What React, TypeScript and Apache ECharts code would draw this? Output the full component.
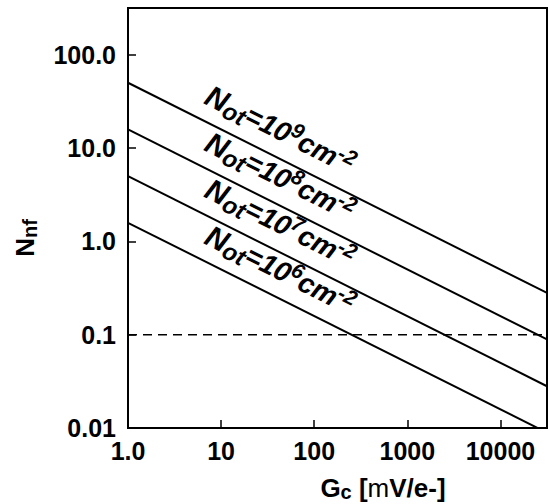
import React, { useEffect, useRef } from "react";
import * as echarts from "echarts";

// ---- data ----
const xTickValues = [1, 10, 100, 1000, 10000];
const xTickLabels = ["1.0", "10", "100", "1000", "10000"];
const yTickValues = [0.01, 0.1, 1, 10, 100];
const yTickLabels = ["0.01", "0.1", "1.0", "10.0", "100.0"];
const xRange = [1, 31623];
const yRange = [0.01, 316.2];

const gcEnds = [1, 31623];
const nfNot1e9 = [50, 0.28];
const nfNot1e8 = [15.8, 0.089];
const nfNot1e7 = [5.0, 0.028];
const nfNot1e6 = [1.58, 0.0089];
const nfThreshold = [0.1, 0.1];
const notExponents = ["9", "8", "7", "6"];
const labelGc = 43;

const FONT = "'Liberation Sans', Arial, Helvetica, sans-serif";

function fmt(values: number[], labels: string[]) {
  return (v: number) => {
    const i = values.findIndex((t) => Math.abs(Math.log10(v) - Math.log10(t)) < 1e-6);
    return i >= 0 ? labels[i] : "";
  };
}

export default function App() {
  const ref = useRef<HTMLDivElement>(null);
  useEffect(() => {
    if (!ref.current) return;
    const chart = echarts.init(ref.current, undefined, { renderer: "svg" });
    const curves = [nfNot1e9, nfNot1e8, nfNot1e7, nfNot1e6];
    const axisCommon = {
      type: "log" as const,
      logBase: 10,
      axisLine: { show: true, lineStyle: { color: "#000", width: 2 } },
      axisTick: { show: true, inside: true, length: 8, lineStyle: { color: "#000", width: 1.5 } },
      splitLine: { show: false },
      minorTick: { show: false },
    };
    chart.setOption({
      animation: false,
      grid: {
        left: 128,
        right: 2,
        top: 8,
        bottom: 76,
        show: true,
        borderColor: "#000",
        borderWidth: 2,
        containLabel: false,
        outerBoundsMode: "none",
      },
      xAxis: {
        ...axisCommon,
        min: xRange[0],
        max: xRange[1],
        axisLabel: {
          margin: 10,
          color: "#000",
          fontFamily: FONT,
          fontWeight: "bold",
          fontSize: 25,
          showMinLabel: true,
          showMaxLabel: true,
          formatter: fmt(xTickValues, xTickLabels),
        },
      },
      yAxis: {
        ...axisCommon,
        min: yRange[0],
        max: yRange[1],
        axisLabel: {
          margin: 12,
          color: "#000",
          fontFamily: FONT,
          fontWeight: "bold",
          fontSize: 25,
          showMinLabel: true,
          showMaxLabel: true,
          formatter: fmt(yTickValues, yTickLabels),
        },
      },
      series: [
        ...curves.map((c) => ({
          type: "line",
          data: gcEnds.map((g, i) => [g, c[i]]),
          symbol: "none",
          clip: true,
          silent: true,
          lineStyle: { color: "#000", width: 2 },
        })),
        {
          type: "line",
          data: gcEnds.map((g, i) => [g, nfThreshold[i]]),
          symbol: "none",
          clip: true,
          silent: true,
          lineStyle: { color: "#000", width: 1.5, type: [9, 6] },
        },
      ],
    });

    const labelRich = {
      N: { fontFamily: FONT, fontStyle: "italic", fontWeight: "bold", fontSize: 30, lineHeight: 36, verticalAlign: "middle", fill: "#000" },
      sub: { fontFamily: FONT, fontStyle: "italic", fontWeight: "bold", fontSize: 24, lineHeight: 24, verticalAlign: "bottom", fill: "#000" },
      m: { fontFamily: FONT, fontStyle: "italic", fontWeight: "bold", fontSize: 28, lineHeight: 36, verticalAlign: "middle", fill: "#000" },
      sup: { fontFamily: FONT, fontStyle: "italic", fontWeight: "bold", fontSize: 21, lineHeight: 21, verticalAlign: "top", fill: "#000" },
    };

    const graphics: any[] = curves.map((c, k) => {
      const p1 = chart.convertToPixel({ gridIndex: 0 }, [gcEnds[0], c[0]]) as number[];
      const p2 = chart.convertToPixel({ gridIndex: 0 }, [gcEnds[1], c[1]]) as number[];
      const px = (chart.convertToPixel({ gridIndex: 0 }, [labelGc, 1]) as number[])[0];
      const t = (px - p1[0]) / (p2[0] - p1[0]);
      const py = p1[1] + t * (p2[1] - p1[1]);
      const ang = Math.atan2(p2[1] - p1[1], p2[0] - p1[0]);
      return {
        type: "text",
        x: px,
        y: py - 29,
        rotation: -ang,
        silent: true,
        style: {
          text: `{N|N}{sub|ot}{m|=10}{sup|${notExponents[k]}}{m|cm}{sup|-2}`,
          rich: labelRich,
          align: "center",
          verticalAlign: "middle",
          fill: "#000",
        },
      };
    });

    graphics.push({
      type: "text",
      x: 25,
      y: 238,
      rotation: Math.PI / 2,
      silent: true,
      style: {
        text: "{N|N}{s|nf}",
        align: "center",
        verticalAlign: "middle",
        fill: "#000",
        rich: {
          N: { fontFamily: FONT, fontWeight: "bold", fontSize: 26, lineHeight: 30, verticalAlign: "middle", fill: "#000" },
          s: { fontFamily: FONT, fontWeight: "bold", fontSize: 20, lineHeight: 20, verticalAlign: "bottom", fill: "#000" },
        },
      },
    });
    graphics.push({
      type: "text",
      x: 383,
      y: 488,
      silent: true,
      style: {
        text: "{b|G}{s|c}{b| [}{r|m}{b|V/e-]}",
        align: "center",
        verticalAlign: "middle",
        fill: "#000",
        rich: {
          b: { fontFamily: FONT, fontWeight: "bold", fontSize: 26, lineHeight: 28, verticalAlign: "middle", fill: "#000" },
          r: { fontFamily: FONT, fontWeight: "normal", fontSize: 26, lineHeight: 28, verticalAlign: "middle", fill: "#000" },
          s: { fontFamily: FONT, fontWeight: "bold", fontSize: 20, lineHeight: 20, verticalAlign: "bottom", fill: "#000" },
        },
      },
    });

    chart.setOption({ graphic: graphics });
    return () => chart.dispose();
  }, []);
  return (
    <div
      ref={ref}
      style={{ position: "absolute", left: 0, top: 0, width: 549, height: 504, background: "#fff" }}
    />
  );
}
